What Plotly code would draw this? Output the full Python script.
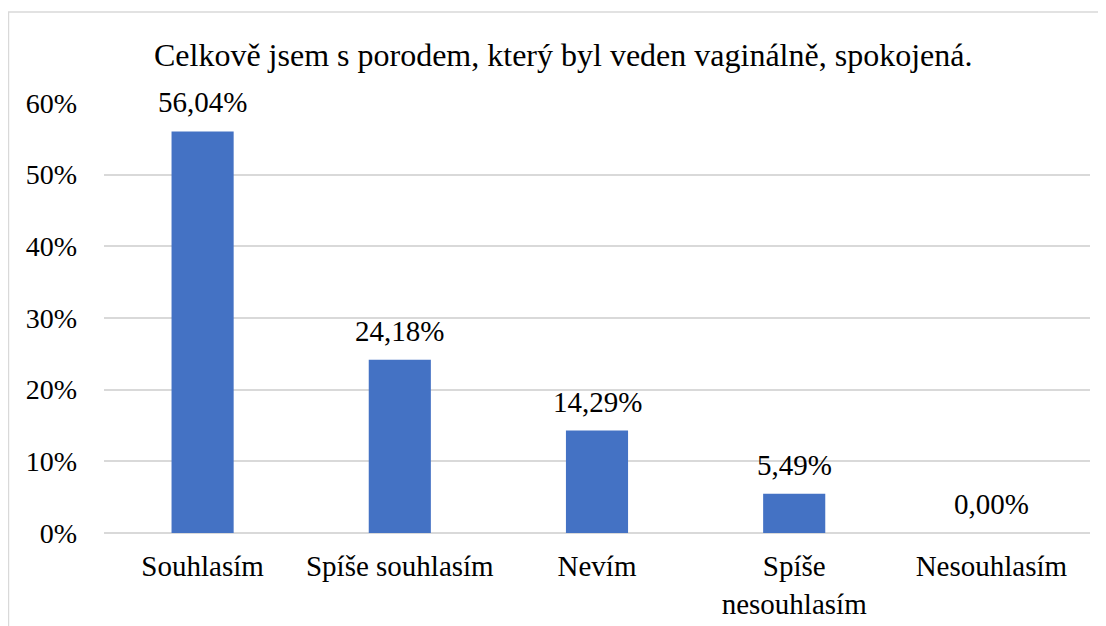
import plotly.graph_objects as go

categories = ["Souhlasím", "Spíše souhlasím", "Nevím", "Spíše<br>nesouhlasím", "Nesouhlasím"]
values = [56.04, 24.18, 14.29, 5.49, 0.00]
labels = ["56,04%", "24,18%", "14,29%", "5,49%", "0,00%"]
tick_vals = [0, 10, 20, 30, 40, 50, 60]
tick_text = ["0%", "10%", "20%", "30%", "40%", "50%", "60%"]

font = "Liberation Serif"

fig = go.Figure()
fig.add_bar(x=categories, y=values, marker=dict(color="#4472C4", line=dict(width=0)), width=0.315, hoverinfo="skip")

for c, v, t in zip(categories, values, labels):
    fig.add_annotation(x=c, y=v, text=t, showarrow=False, yanchor="bottom", yshift=11,
                       font=dict(family=font, size=29, color="black"))

# outer chart border (page body has an 8px margin, so keep the left edge inside the svg)
fig.add_shape(type="rect", xref="paper", yref="paper", x0=-0.0969, x1=1.03, y0=-0.3, y1=1.2116,
              line=dict(color="#D9D9D9", width=1.5), fillcolor="rgba(0,0,0,0)", layer="below")

fig.update_layout(
    width=1106, height=626,
    margin=dict(l=96, r=24, t=95, b=101),
    paper_bgcolor="white", plot_bgcolor="white",
    showlegend=False,
    title=dict(text="Celkově jsem s porodem, který byl veden vaginálně, spokojená.",
               x=0.502, xanchor="center", y=0.925, yanchor="middle",
               font=dict(family=font, size=32, color="black")),
    xaxis=dict(showgrid=False, showline=False, ticks="", tickfont=dict(family=font, size=29, color="black"),
               ticklabelstandoff=13),
    yaxis=dict(range=[0, 60], tickvals=tick_vals, ticktext=tick_text, showgrid=True, gridcolor="#D9D9D9",
               gridwidth=1.5, zeroline=True, zerolinecolor="#D9D9D9", zerolinewidth=1.5, showline=False,
               tickfont=dict(family=font, size=28, color="black"), ticklabelstandoff=26),
)

fig.write_html("out.html")
